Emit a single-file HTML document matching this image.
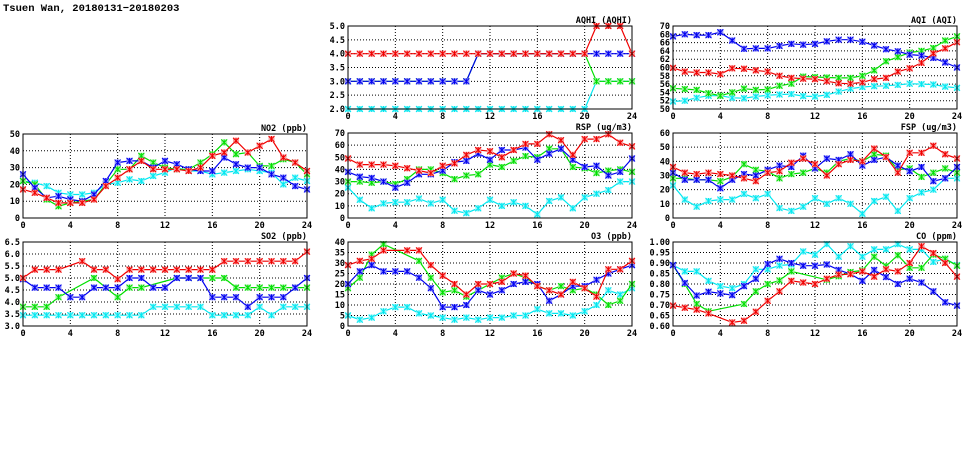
<!DOCTYPE html>
<html><head><meta charset="utf-8"><style>
html,body{margin:0;padding:0;background:#fff;}
svg text{font-family:"DejaVu Sans Mono","Liberation Mono",monospace;font-weight:bold;font-size:8.5px;fill:#000;}
</style></head><body>
<svg id="s" width="975" height="447" xmlns="http://www.w3.org/2000/svg">
<text x="3" y="11" style="font-family:'Liberation Mono',monospace;font-weight:bold;font-size:10.5px;">Tsuen Wan, 20180131−20180203</text>
</svg>
<script>
var N=null;
var P=[
{t:"AQHI (AQHI)",x0:348,x1:632,y0:26,y1:109,min:2,max:5,ticks:[2,2.5,3,3.5,4,4.5,5],fmt:1,
 s:{c:[2,2,2,2,2,2,2,2,2,2,2,2,2,2,2,2,2,2,2,2,2,3,3,3,3],
    g:[3,3,3,3,3,3,3,3,3,3,3,4,4,4,4,4,4,4,4,4,4,3,3,3,3],
    b:[3,3,3,3,3,3,3,3,3,3,3,4,4,4,4,4,4,4,4,4,4,4,4,4,4],
    r:[4,4,4,4,4,4,4,4,4,4,4,4,4,4,4,4,4,4,4,4,4,5,5,5,4]}},
{t:"AQI (AQI)",x0:673,x1:957,y0:26,y1:109,min:50,max:70,ticks:[50,52,54,56,58,60,62,64,66,68,70],fmt:0,
 s:{c:[51.8,52,52.7,53.2,53.2,52.7,52.6,53,53.3,53.5,53.6,53.1,53,53.4,54.2,54.9,55.3,55.5,55.6,55.8,56.1,56,55.9,55.4,55.1],
    g:[55,54.8,54.6,53.8,53.2,54,54.9,54.6,54.7,55.6,56.1,57.8,57.7,57.6,57.5,57.5,58,59.3,61.5,62.5,63.6,64,64.7,66.5,67.5],
    b:[67.5,68,67.8,67.8,68.5,66.5,64.5,64.6,64.6,65.2,65.7,65.5,65.7,66.3,66.7,66.7,66.2,65.3,64.4,63.9,63.1,62.9,62.3,61.2,60],
    r:[59.9,59,58.8,58.8,58.4,59.8,59.7,59.3,59,58,57.5,57.3,57.2,56.7,56.2,56.1,56.4,57.2,57.5,59,59.8,61.1,63.4,64.6,66.1]}},
{t:"NO2 (ppb)",x0:23,x1:307,y0:134,y1:218,min:0,max:50,ticks:[0,10,20,30,40,50],fmt:0,
 s:{c:[22,21,19,15,14,14,15,20,21,23,22,25,27,30,28,28,26,27,28,29,28,27,20,24,22],
    g:[22,20,11,7,9,10,11,20,29,29,37,33,30,29,29,33,38,45,38,39,31,31,35,33,26],
    b:[26,18,12,13,11,10,14,22,33,34,34,30,34,32,29,28,28,36,32,30,30,26,24,19,17],
    r:[17,15,12,9,9,9,11,19,24,29,34,29,29,29,28,30,37,39,46,39,43,47,36,33,28]}},
{t:"RSP (ug/m3)",x0:348,x1:632,y0:133,y1:218,min:0,max:70,ticks:[0,10,20,30,40,50,60,70],fmt:0,
 s:{c:[25,15,8,12,13,13,16,12,15,6,4,8,15,10,13,10,3,14,17,8,17,20,23,30,30],
    g:[30,30,29,30,28,32,40,40,37,32,35,36,44,42,47,51,50,57,57,42,41,37,39,40,38],
    b:[38,34,33,30,25,29,36,36,39,46,47,53,48,56,56,58,48,53,57,48,42,43,35,38,49],
    r:[49,44,44,44,43,41,39,37,43,45,52,56,55,50,56,61,61,69,64,52,65,65,69,62,59]}},
{t:"FSP (ug/m3)",x0:673,x1:957,y0:133,y1:218,min:0,max:60,ticks:[0,10,20,30,40,50,60],fmt:0,
 s:{c:[23,13,8,12,13,13,17,14,17,7,5,8,14,10,14,10,3,12,15,5,14,18,20,28,28],
    g:[28,28,27,27,26,29,38,34,33,28,31,32,35,32,40,42,40,45,44,34,35,29,32,35,32],
    b:[32,27,27,27,21,27,31,30,34,37,36,44,35,42,41,45,37,41,43,37,33,36,26,28,36],
    r:[36,32,31,32,31,30,28,26,32,33,39,42,38,30,38,41,40,49,43,32,46,46,51,45,42]}},
{t:"SO2 (ppb)",x0:23,x1:307,y0:242,y1:326,min:3,max:6.5,ticks:[3,3.5,4,4.5,5,5.5,6,6.5],fmt:1,
 s:{c:[3.45,3.45,3.45,3.45,3.45,3.45,3.45,3.45,3.45,3.45,3.45,3.8,3.8,3.8,3.8,3.8,3.45,3.45,3.45,3.45,3.8,3.45,3.8,3.8,3.8],
    g:[3.8,3.8,3.8,4.2,N,N,5.0,4.6,4.2,4.6,4.6,N,N,5.0,5.0,5.0,5.0,5.0,4.6,4.6,4.6,4.6,4.6,4.6,4.6],
    b:[4.95,4.6,4.6,4.6,4.2,4.2,4.6,4.6,4.6,5.0,5.0,4.6,4.6,5.0,5.0,5.0,4.2,4.2,4.2,3.8,4.2,4.2,4.2,4.6,5.0],
    r:[5.0,5.35,5.35,5.35,N,5.7,5.35,5.35,4.95,5.35,5.35,5.35,5.35,5.35,5.35,5.35,5.35,5.7,5.7,5.7,5.7,5.7,5.7,5.7,6.1]}},
{t:"O3 (ppb)",x0:348,x1:632,y0:242,y1:326,min:0,max:40,ticks:[0,5,10,15,20,25,30,35,40],fmt:0,
 s:{c:[5,3,4,7,9,9,6,5,4,3,4,3,4,4,5,5,8,6,6,5,7,10,17,15,18],
    g:[18,23,34,39,N,N,31,23,16,17,14,17,20,23,25,23,19,17,19,17,18,15,10,12,20],
    b:[20,26,29,26,26,26,23,18,9,9,10,17,15,17,20,21,20,12,15,19,19,22,25,27,29],
    r:[29,31,32,36,N,36,36,29,24,20,15,20,20,21,25,24,19,17,15,21,18,14,27,27,31]}},
{t:"CO (ppm)",x0:673,x1:957,y0:242,y1:326,min:0.6,max:1.0,ticks:[0.6,0.65,0.7,0.75,0.8,0.85,0.9,0.95,1.0],fmt:2,
 s:{c:[.89,.86,.86,.815,.79,.78,.8,.87,.87,.888,.893,.955,.94,.99,.93,.98,.93,.965,.965,.99,.965,.965,.905,.92,.89],
    g:[.89,.8,.705,.67,N,N,.705,.765,.8,.817,.86,N,N,.82,.837,.857,.865,.93,.885,.937,.877,.877,.94,.92,.887],
    b:[.89,.805,.745,.763,.755,.747,.79,.825,.895,.92,.9,.887,.887,.893,.867,.847,.815,.867,.833,.8,.825,.807,.765,.713,.697],
    r:[.697,.687,.678,.66,N,.617,.625,.668,.72,.765,.815,.807,.8,.825,.845,.847,.86,.835,.87,.86,.9,.98,.947,.9,.835]}}
];
var COL={c:"#00e8f0",g:"#00e000",b:"#0000f0",r:"#f00000"};
var LIGHT={c:"#a0f4f8",g:"#a0f0a0",b:"#9090f8",r:"#f8a0a0"};
var h="";
P.forEach(function(p){
  var W=p.x1-p.x0,H=p.y1-p.y0;
  function X(i){return p.x0+i*W/24;}
  function Y(v){return p.y1-(v-p.min)/(p.max-p.min)*H;}
  for(var i=4;i<24;i+=4){h+='<line x1="'+X(i)+'" y1="'+p.y0+'" x2="'+X(i)+'" y2="'+p.y1+'" stroke="#000" stroke-width="1" stroke-dasharray="1,2"/>';}
  p.ticks.forEach(function(t,k){
    var y=Y(t);
    if(k>0&&k<p.ticks.length-1)h+='<line x1="'+p.x0+'" y1="'+y+'" x2="'+p.x1+'" y2="'+y+'" stroke="#000" stroke-width="1" stroke-dasharray="1,2"/>';
    h+='<text x="'+(p.x0-3)+'" y="'+(y+3)+'" text-anchor="end">'+t.toFixed(p.fmt)+'</text>';
  });
  for(var i=0;i<=24;i+=4){h+='<text x="'+X(i)+'" y="'+(p.y1+10)+'" text-anchor="middle">'+i+'</text>';}
  h+='<text x="'+p.x1+'" y="'+(p.y0-3)+'" text-anchor="end">'+p.t+'</text>';
  ["c","g","b","r"].forEach(function(k){
    var d=p.s[k],pts=[];
    d.forEach(function(v,i){if(v!==null)pts.push(X(i).toFixed(1)+","+Y(v).toFixed(1));});
    h+='<polyline points="'+pts.join(" ")+'" fill="none" stroke="'+COL[k]+'" stroke-width="1.2"/>';
    d.forEach(function(v,i){if(v===null)return;var x=X(i),y=Y(v);
      h+='<rect x="'+(x-3)+'" y="'+(y-3)+'" width="6" height="6" fill="'+LIGHT[k]+'"/>';
      h+='<path d="M'+(x-3)+' '+(y-3)+'L'+(x+3)+' '+(y+3)+'M'+(x-3)+' '+(y+3)+'L'+(x+3)+' '+(y-3)+'M'+x+' '+(y-3)+'L'+x+' '+(y+3)+'" stroke="'+COL[k]+'" stroke-width="1"/>';
    });
  });
  h+='<rect x="'+p.x0+'" y="'+p.y0+'" width="'+W+'" height="'+H+'" fill="none" stroke="#000" stroke-width="1"/>';
});
document.getElementById("s").insertAdjacentHTML("beforeend",h);
</script>
</body></html>
